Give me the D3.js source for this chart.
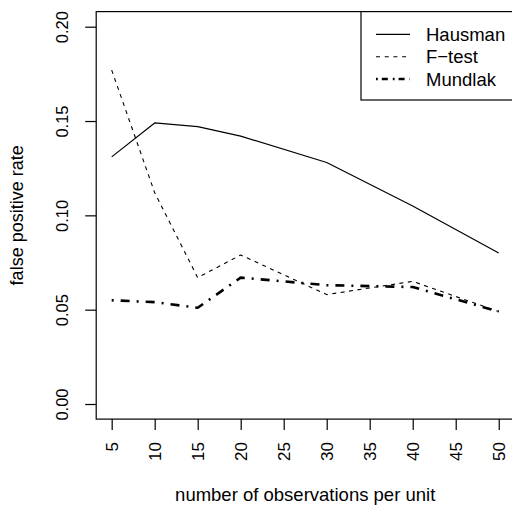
<!DOCTYPE html>
<html>
<head>
<meta charset="utf-8">
<script src="https://cdn.jsdelivr.net/npm/d3@7"></script>
<style>
  html, body { margin: 0; padding: 0; background: #fff; }
  svg { display: block; font-family: "Liberation Sans", Arial, Helvetica, sans-serif; }
</style>
</head>
<body>
<svg id="chart" width="512" height="513"></svg>
<script>
// Observations per unit at which each test was evaluated
const obsPerUnit = [5, 10, 15, 20, 30, 40, 50];
// False positive rates per test
const hausman = [0.131, 0.149, 0.147, 0.142, 0.128, 0.105, 0.080];
const fTest   = [0.177, 0.112, 0.067, 0.079, 0.058, 0.065, 0.049];
const mundlak = [0.055, 0.054, 0.051, 0.067, 0.063, 0.062, 0.049];
// Axis ticks
const xTicks = [5, 10, 15, 20, 25, 30, 35, 40, 45, 50];
const yTicks = [0.00, 0.05, 0.10, 0.15, 0.20];
const seriesNames = ["Hausman", "F\u2212test", "Mundlak"];

const svg = d3.select("#chart");

// Plot region with 4% padding on both axes, as base graphics does
const xDom = [5, 50], yDom = [0, 0.2];
const pad = (d) => { const r = d[1] - d[0]; return [d[0] - 0.04 * r, d[1] + 0.04 * r]; };
const x = d3.scaleLinear().domain(pad(xDom)).range([96.2, 514.2]);
const y = d3.scaleLinear().domain(pad(yDom)).range([419.1, 11.6]);

const styles = [
  { width: 1.2, dash: null },
  { width: 1.1, dash: "4,4.5" },
  { width: 2.6, dash: "2,7,9,7" }
];
const legendDash = [null, "4,4.7", "1.8,4,6,5"];

// Lines
const line = d3.line().x((d, i) => x(obsPerUnit[i])).y(d => y(d));
[hausman, fTest, mundlak].forEach((vals, k) => {
  svg.append("path")
    .datum(vals)
    .attr("d", line)
    .attr("fill", "none")
    .attr("stroke", "#000")
    .attr("stroke-width", styles[k].width)
    .attr("stroke-dasharray", styles[k].dash)
    .attr("stroke-linejoin", "round");
});

// Frame
svg.append("rect")
  .attr("x", x.range()[0]).attr("y", y.range()[1])
  .attr("width", x.range()[1] - x.range()[0])
  .attr("height", y.range()[0] - y.range()[1])
  .attr("fill", "none").attr("stroke", "#000").attr("stroke-width", 1.2);

// X axis
const xAxis = d3.axisBottom(x).tickValues(xTicks).tickSize(11).tickSizeOuter(0).tickFormat(d3.format("d"));
const gx = svg.append("g").attr("transform", `translate(0,${y.range()[0]})`).call(xAxis);
gx.select(".domain").remove();
gx.selectAll(".tick line").attr("stroke", "#000").attr("stroke-width", 1.2);
gx.selectAll(".tick text")
  .attr("fill", "#000")
  .attr("font-size", 17)
  .attr("text-anchor", "end")
  .attr("x", 0).attr("y", 0)
  .attr("dy", "0.36em")
  .attr("transform", "translate(0,23) rotate(-90)");

// Y axis
const yAxis = d3.axisLeft(y).tickValues(yTicks).tickSize(11).tickSizeOuter(0).tickFormat(d3.format(".2f"));
const gy = svg.append("g").attr("transform", `translate(${x.range()[0]},0)`).call(yAxis);
gy.select(".domain").remove();
gy.selectAll(".tick line").attr("stroke", "#000").attr("stroke-width", 1.2);
gy.selectAll(".tick text")
  .attr("fill", "#000")
  .attr("font-size", 16.5)
  .attr("text-anchor", "middle")
  .attr("x", 0).attr("y", 0).attr("dy", 0)
  .attr("transform", "translate(-28,0) rotate(-90)");

// Axis titles
svg.append("text")
  .attr("x", (x.range()[0] + x.range()[1]) / 2)
  .attr("y", 501)
  .attr("text-anchor", "middle")
  .attr("font-size", 18.5)
  .text("number of observations per unit");

svg.append("text")
  .attr("transform", `translate(23,${(y.range()[0] + y.range()[1]) / 2}) rotate(-90)`)
  .attr("text-anchor", "middle")
  .attr("font-size", 18)
  .text("false positive rate");

// Legend
const lg = svg.append("g");
lg.append("rect")
  .attr("x", 361).attr("y", y.range()[1])
  .attr("width", x.range()[1] - 361).attr("height", 100 - y.range()[1])
  .attr("fill", "#fff").attr("stroke", "#000").attr("stroke-width", 1.2);
const rowY = [34.3, 56.7, 79];
seriesNames.forEach((name, k) => {
  lg.append("line")
    .attr("x1", 376).attr("x2", 410)
    .attr("y1", rowY[k]).attr("y2", rowY[k])
    .attr("stroke", "#000")
    .attr("stroke-width", styles[k].width)
    .attr("stroke-dasharray", legendDash[k]);
  lg.append("text")
    .attr("x", 426).attr("y", rowY[k])
    .attr("dy", "0.36em")
    .attr("font-size", 18.5)
    .text(name);
});
</script>
</body>
</html>
